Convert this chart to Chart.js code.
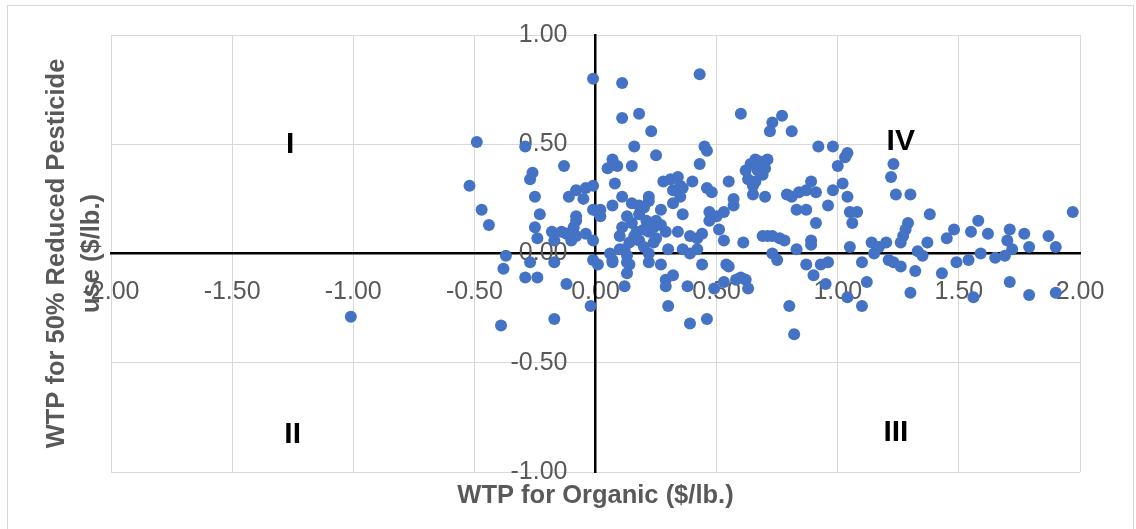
<!DOCTYPE html>
<html>
<head>
<meta charset="utf-8">
<script src="https://cdn.jsdelivr.net/npm/chart.js@4"></script>
<style>
  html, body { margin: 0; background: #fff; }
</style>
</head>
<body>
<canvas id="canva" width="1136" height="529"></canvas>
<script>
// WTP for organic (x) and WTP for 50% reduced pesticide use (y), $/lb.
var wtpOrganic = [
  -1.01,-0.52,-0.49,-0.47,-0.44,-0.39,-0.38,-0.37,-0.29,-0.26,
  -0.27,-0.25,-0.23,-0.25,-0.24,-0.27,-0.29,-0.24,-0.17,-0.12,
  -0.17,-0.13,-0.11,-0.08,-0.04,-0.01,-0.05,-0.01,0.01,-0.08,
  -0.08,-0.18,-0.17,-0.14,-0.12,-0.10,-0.08,-0.04,-0.01,-0.09,
  -0.01,-0.01,0.01,-0.02,0.02,
  0.11,0.11,0.18,0.23,0.16,0.25,0.05,0.07,0.09,0.15,
  0.08,0.11,0.15,0.07,0.22,0.28,0.31,0.34,0.35,0.40,
  0.32,0.36,0.32,0.35,0.36,0.43,0.45,0.46,0.43,0.46,
  0.48,0.47,0.50,0.53,0.57,0.47,0.55,0.57,0.60,0.72,
  0.73,0.77,0.81,
  0.62,0.64,0.66,0.68,0.70,0.69,0.66,0.63,0.65,0.67,0.71,
  0.65,0.70,0.79,0.81,0.84,0.87,0.89,0.91,0.83,0.87,
  0.91,0.92,0.98,1.04,1.03,1.00,1.02,0.98,0.96,1.04,
  1.05,1.08,1.06,
  0.69,0.71,0.73,0.76,0.78,0.73,0.75,0.83,0.89,0.89,
  1.05,1.14,1.15,0.61,0.51,0.53,0.34,0.39,0.42,0.44,
  0.36,0.39,0.42,0.30,0.27,0.44,0.54,0.55,0.58,0.60,
  0.62,0.63,0.53,0.49,0.38,0.29,0.32,0.29,0.30,0.39,
  0.46,0.80,0.82,0.87,0.90,0.93,0.96,0.95,1.04,1.10,
  1.12,1.10,
  0.07,0.13,0.14,0.13,0.12,0.22,0.06,0.07,0.10,0.13,
  0.24,0.11,0.13,0.15,0.18,0.21,0.22,0.18,0.20,0.22,
  0.17,0.14,0.22,0.25,0.27,0.29,0.10,0.20,0.25,0.02,
  0.18,0.24,0.16,0.12,0.20,0.27,
  1.23,1.22,1.24,1.30,1.38,1.29,1.28,1.27,1.26,1.20,
  1.17,1.21,1.23,1.26,1.32,1.43,1.30,1.33,1.35,1.37,
  1.45,1.48,1.49,1.54,1.55,1.58,1.62,1.59,1.65,1.69,
  1.71,1.70,1.72,1.71,1.77,1.79,1.87,1.90,1.97,1.56,
  1.79,1.90
];
var wtpReduced = [
  -0.29,0.31,0.51,0.20,0.13,-0.33,-0.07,-0.01,0.49,0.37,
  0.34,0.26,0.18,0.12,0.07,-0.04,-0.11,-0.11,-0.04,-0.14,
  -0.30,0.40,0.26,0.29,0.30,0.31,0.25,0.20,0.19,0.15,
  0.17,0.10,0.06,0.10,0.09,0.06,0.08,0.09,0.06,0.12,
  0.80,-0.03,-0.05,-0.24,0.17,
  0.78,0.62,0.64,0.56,0.49,0.45,0.39,0.43,0.40,0.40,
  0.32,0.26,0.23,0.22,0.26,0.33,0.34,0.35,0.31,0.33,
  0.29,0.30,0.23,0.26,0.18,0.82,0.49,0.47,0.41,0.30,
  0.28,0.19,0.17,0.19,0.22,0.15,0.33,0.25,0.64,0.56,
  0.60,0.63,0.56,
  0.38,0.41,0.43,0.42,0.39,0.36,0.33,0.34,0.31,0.38,0.43,
  0.27,0.26,0.27,0.26,0.28,0.29,0.33,0.28,0.20,0.20,
  0.14,0.49,0.49,0.46,0.44,0.40,0.32,0.29,0.22,0.26,
  0.19,0.19,0.14,
  0.08,0.08,0.08,0.07,0.06,0.00,-0.03,0.02,0.06,0.04,
  0.03,0.05,0.00,0.05,0.11,0.06,0.10,0.08,0.07,0.09,
  0.02,0.00,0.02,0.02,-0.05,-0.05,-0.05,-0.06,-0.12,-0.11,
  -0.12,-0.16,-0.13,-0.16,-0.15,-0.12,-0.10,-0.15,-0.24,-0.32,
  -0.30,-0.24,-0.37,-0.05,-0.10,-0.05,-0.04,-0.14,-0.20,-0.24,
  -0.13,-0.04,
  -0.04,-0.04,-0.05,-0.09,-0.15,-0.04,0.00,-0.03,0.02,-0.01,
  0.05,0.12,0.17,0.14,0.18,0.15,0.10,0.06,0.03,0.00,
  0.10,0.05,0.24,0.15,0.20,0.10,0.08,0.11,0.07,0.20,
  0.22,0.12,0.08,0.02,0.21,0.13,
  0.41,0.35,0.27,0.27,0.18,0.14,0.11,0.08,0.05,0.05,
  0.03,-0.03,-0.04,-0.06,-0.08,-0.09,-0.18,0.01,-0.01,0.05,
  0.07,0.11,-0.04,-0.03,0.10,0.15,0.09,0.00,-0.02,-0.01,
  0.11,0.06,0.02,-0.13,0.09,0.03,0.08,0.03,0.19,-0.20,
  -0.19,-0.18
];

// quadrant labels
var quadrantNames = ['I', 'II', 'III', 'IV'];
var quadrantX = [-1.26, -1.25, 1.24, 1.26];
var quadrantY = [0.50, -0.83, -0.82, 0.51];

var xTitle = 'WTP for Organic ($/lb.)';
var yTitle = ['WTP for 50% Reduced Pesticide', 'use ($/lb.)'];

var points = [];
for (i = 0; i < wtpOrganic.length; i++) {
  points.push({ x: wtpOrganic[i], y: wtpReduced[i] });
}

var fontFamily = '"Liberation Sans", Arial, sans-serif';
var gray = '#595959';

var extras = {
  id: 'extras',
  beforeDraw: function(chart) {
    var ctx = chart.ctx;
    ctx.save();
    ctx.fillStyle = '#fff';
    ctx.fillRect(0, 0, chart.width, chart.height);
    ctx.strokeStyle = '#d9d9d9';
    ctx.lineWidth = 1;
    ctx.strokeRect(7.5, 5.5, 1126, 530);
    ctx.restore();
  },
  afterDraw: function(chart) {
    var ctx = chart.ctx;
    var area = chart.chartArea;
    var sx = chart.scales.x, sy = chart.scales.y;
    ctx.save();
    ctx.textAlign = 'center';
    ctx.textBaseline = 'middle';

    ctx.fillStyle = '#000';
    ctx.font = 'bold 30px ' + fontFamily;
    for (i = 0; i < quadrantNames.length; i++) {
      ctx.fillText(quadrantNames[i], sx.getPixelForValue(quadrantX[i]), sy.getPixelForValue(quadrantY[i]));
    }

    ctx.fillStyle = gray;
    ctx.font = 'bold 25.5px ' + fontFamily;
    ctx.fillText(xTitle, (area.left + area.right) / 2, area.bottom + 24);

    ctx.translate(74, (area.top + area.bottom) / 2);
    ctx.rotate(-Math.PI / 2);
    ctx.fillText(yTitle[0], 0, -17);
    ctx.fillText(yTitle[1], 0, 18);
    ctx.restore();
  }
};

new Chart(document.getElementById('canva'), {
  type: 'scatter',
  data: {
    datasets: [{
      label: 'WTP',
      data: points,
      backgroundColor: '#4472C4',
      borderColor: '#4472C4',
      pointRadius: 6,
      pointHoverRadius: 6,
      borderWidth: 0
    }]
  },
  options: {
    responsive: false,
    animation: false,
    layout: { padding: { left: 111, right: 56, top: 35, bottom: 57 } },
    plugins: {
      legend: { display: false },
      tooltip: { enabled: false }
    },
    scales: {
      x: {
        type: 'linear',
        position: { y: 0 },
        min: -2,
        max: 2,
        ticks: {
          stepSize: 0.5,
          padding: 24,
          color: gray,
          font: { family: fontFamily, size: 25 },
          maxRotation: 0,
          callback: function(v) { return v.toFixed(2); }
        },
        grid: { color: '#d9d9d9', drawTicks: false },
        border: { color: '#000', width: 2.5 }
      },
      y: {
        type: 'linear',
        position: 'center',
        min: -1,
        max: 1,
        afterFit: function(scale) {
          // labels sit beside the crossing axis, keep them out of the layout
          scale.paddingTop = 0;
          scale.paddingBottom = 0;
        },
        ticks: {
          stepSize: 0.5,
          padding: 28,
          color: gray,
          font: { family: fontFamily, size: 25 },
          callback: function(v) { return v.toFixed(2); }
        },
        grid: { color: '#d9d9d9', drawTicks: false },
        border: { color: '#000', width: 2.5 }
      }
    }
  },
  plugins: [extras]
});
</script>
</body>
</html>
